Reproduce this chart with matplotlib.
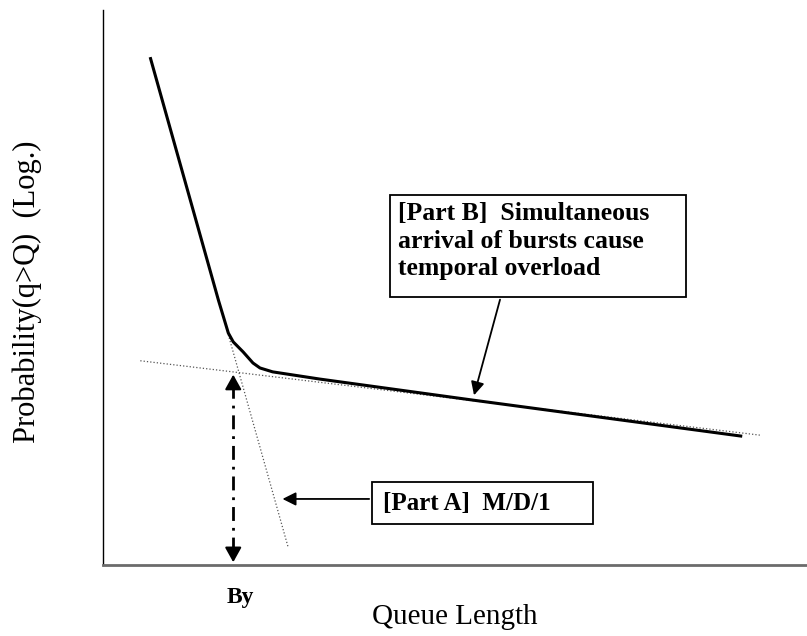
import matplotlib
matplotlib.use('Agg')
import matplotlib.pyplot as plt
from matplotlib.patches import Rectangle

plt.rcParams['font.family'] = ['Liberation Serif', 'DejaVu Serif']

# conceptual units: queue length 0..100, log probability level 0..100
curve_x = [6.7, 16.4, 17.8, 18.5, 19.9, 21.3, 22.3, 24.1, 30.8, 52.6, 90.8]
curve_y = [91.5, 47.7, 41.8, 40.2, 38.4, 36.4, 35.5, 34.8, 33.5, 29.7, 23.2]

md1_x = [6.7, 26.3]
md1_y = [91.5, 3.2]

burst_x = [5.3, 93.3]
burst_y = [36.8, 23.4]

by_x = 18.5
by_y = 34.8

label_a = "[Part A]  M/D/1"
label_b = "[Part B]  Simultaneous\narrival of bursts cause\ntemporal overload"

fig = plt.figure(figsize=(8.07, 6.36), dpi=100)
ax = fig.add_axes([103/807, 71/636, 704/807, 555/636])
ax.set_xlim(0, 100)
ax.set_ylim(0, 100)
ax.set_xticks([])
ax.set_yticks([])
ax.spines['top'].set_visible(False)
ax.spines['right'].set_visible(False)
ax.spines['left'].set_linewidth(1.0)
ax.spines['bottom'].set_color('#6b6b6b')
ax.spines['bottom'].set_linewidth(2.0)

ax.plot(md1_x, md1_y, ':', color='#555555', lw=0.9)
ax.plot(burst_x, burst_y, ':', color='#555555', lw=0.9)
ax.plot(curve_x, curve_y, '-', color='black', lw=2.2, solid_capstyle='butt')

# By double arrow
ax.plot([by_x, by_x], [2.5, by_y - 2.5], color='black', lw=2, linestyle=(0, (5, 2.5, 1, 2.5)))
ax.annotate('', xy=(by_x, by_y), xytext=(by_x, by_y - 3),
            arrowprops=dict(arrowstyle='-|>,head_length=0.9,head_width=0.5', color='black', lw=1.5))
ax.annotate('', xy=(by_x, 0), xytext=(by_x, 3),
            arrowprops=dict(arrowstyle='-|>,head_length=0.9,head_width=0.5', color='black', lw=1.5))
ax.text(19.5, -5.8, 'By', fontsize=17, fontweight='bold', ha='center', va='center', clip_on=False)

# Part B box
ax.add_patch(Rectangle((40.8, 48.3), 42.0, 18.4, fill=False, edgecolor='black', lw=1.3))
ax.text(41.9, 65.4, label_b, fontsize=18.5, fontweight='bold', ha='left', va='top', linespacing=1.25)
ax.annotate('', xy=(52.6, 30.1), xytext=(56.5, 48.3),
            arrowprops=dict(arrowstyle='-|>,head_length=0.8,head_width=0.4', color='black', lw=1.3))

# Part A box
ax.add_patch(Rectangle((38.2, 7.4), 31.4, 7.5, fill=False, edgecolor='black', lw=1.3))
ax.text(39.8, 11.0, label_a, fontsize=18, fontweight='bold', ha='left', va='center')
ax.annotate('', xy=(25.1, 11.9), xytext=(38.2, 11.9),
            arrowprops=dict(arrowstyle='-|>,head_length=0.8,head_width=0.4', color='black', lw=1.3))

fig.text(455/807, 1 - 617/636, 'Queue Length', fontsize=21, ha='center', va='center')
fig.text(27/807, 1 - 292/636, 'Probability(q>Q)  (Log.)', fontsize=22, rotation=90,
         ha='center', va='center')

fig.savefig('out.png', dpi=100)
